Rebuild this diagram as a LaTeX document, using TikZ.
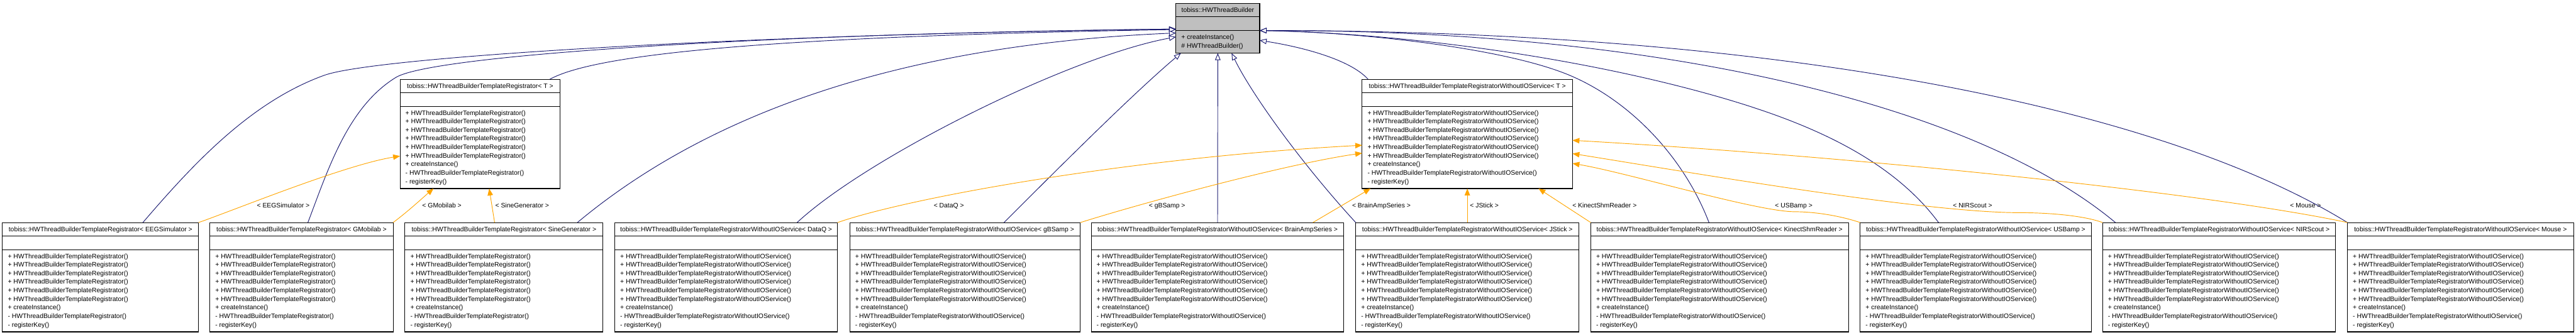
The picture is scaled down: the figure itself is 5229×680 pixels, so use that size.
\documentclass[tikz,border=0pt]{standalone}
\usepackage{fontspec}
\setmainfont{Liberation Sans}
\usetikzlibrary{arrows.meta}
\definecolor{edgeblue}{HTML}{191970}
\definecolor{edgeorange}{HTML}{FFA500}
\definecolor{basegray}{HTML}{BFBFBF}
\tikzset{
  umlframe/.style={draw=black, line width=1.4pt, inner sep=0pt, outer sep=0pt, rectangle},
  umlsep/.style={draw=black, line width=1.4pt},
  umltext/.style={inner sep=0pt, outer sep=0pt, text=black},
  inherit/.style={draw=edgeblue, line width=1.2pt, -{Triangle[open, fill=white, length=14pt, width=11pt]}},
  instance/.style={draw=edgeorange, line width=1.2pt, -{Triangle[length=14pt, width=11pt, fill=edgeorange]}},
  edgelabel/.style={inner sep=0pt, outer sep=0pt, text=black, anchor=base},
}
\newcommand\regmembers{+ HWThreadBuilderTemplateRegistrator(),+ HWThreadBuilderTemplateRegistrator(),+ HWThreadBuilderTemplateRegistrator(),+ HWThreadBuilderTemplateRegistrator(),+ HWThreadBuilderTemplateRegistrator(),+ HWThreadBuilderTemplateRegistrator(),+ createInstance(),- HWThreadBuilderTemplateRegistrator(),- registerKey()}
\newcommand\wiomembers{+ HWThreadBuilderTemplateRegistratorWithoutIOService(),+ HWThreadBuilderTemplateRegistratorWithoutIOService(),+ HWThreadBuilderTemplateRegistratorWithoutIOService(),+ HWThreadBuilderTemplateRegistratorWithoutIOService(),+ HWThreadBuilderTemplateRegistratorWithoutIOService(),+ HWThreadBuilderTemplateRegistratorWithoutIOService(),+ createInstance(),- HWThreadBuilderTemplateRegistratorWithoutIOService(),- registerKey()}
\newcommand\basemembers{+ createInstance(),\# HWThreadBuilder()}
\newcommand\umlclass[8]{%
  \node[umlframe, fill=#2, minimum width=#5pt, minimum height=#6pt, anchor=north west] (#1) at (#3,#4) {};
  \draw[umlsep] ([yshift=-27pt]#1.north west) -- ([yshift=-27pt]#1.north east);
  \draw[umlsep] ([yshift=-55pt]#1.north west) -- ([yshift=-55pt]#1.north east);
  \node[umltext, anchor=base] (#1-t) at ([yshift=-18.25pt]#1.north) {#7};
  \foreach \m [count=\i] in #8 {
    \node[umltext, anchor=base west] (#1-m\i) at ([xshift=11pt, yshift={-(72.75+(\i-1)*17.4)*1pt}]#1.north west) {\m};
  }%
}
\begin{document}
\begin{tikzpicture}[x=1pt, y=-1pt, font=\fontsize{13.25}{17.4}\selectfont]
\useasboundingbox (0,0) rectangle (5229,680);
% classes
\umlclass{base}{basegray}{2387}{7}{170}{101}{tobiss::HWThreadBuilder}{\basemembers}
\umlclass{tmpl}{white}{812}{161}{325}{222}{tobiss::HWThreadBuilderTemplateRegistrator< T >}{\regmembers}
\umlclass{wtmpl}{white}{2765}{161}{427}{222}{tobiss::HWThreadBuilderTemplateRegistratorWithoutIOService< T >}{\wiomembers}
\umlclass{eeg}{white}{5}{452}{398}{222}{tobiss::HWThreadBuilderTemplateRegistrator< EEGSimulator >}{\regmembers}
\umlclass{gmob}{white}{426}{452}{372}{222}{tobiss::HWThreadBuilderTemplateRegistrator< GMobilab >}{\regmembers}
\umlclass{sine}{white}{822}{452}{402}{222}{tobiss::HWThreadBuilderTemplateRegistrator< SineGenerator >}{\regmembers}
\umlclass{dataq}{white}{1248}{452}{452}{222}{tobiss::HWThreadBuilderTemplateRegistratorWithoutIOService< DataQ >}{\wiomembers}
\umlclass{gbsamp}{white}{1725}{452}{468}{222}{tobiss::HWThreadBuilderTemplateRegistratorWithoutIOService< gBSamp >}{\wiomembers}
\umlclass{brainamp}{white}{2215}{452}{513}{222}{tobiss::HWThreadBuilderTemplateRegistratorWithoutIOService< BrainAmpSeries >}{\wiomembers}
\umlclass{jstick}{white}{2752}{452}{453}{222}{tobiss::HWThreadBuilderTemplateRegistratorWithoutIOService< JStick >}{\wiomembers}
\umlclass{kinect}{white}{3229}{452}{523}{222}{tobiss::HWThreadBuilderTemplateRegistratorWithoutIOService< KinectShmReader >}{\wiomembers}
\umlclass{usbamp}{white}{3776}{452}{469}{222}{tobiss::HWThreadBuilderTemplateRegistratorWithoutIOService< USBamp >}{\wiomembers}
\umlclass{nirscout}{white}{4268}{452}{473}{222}{tobiss::HWThreadBuilderTemplateRegistratorWithoutIOService< NIRScout >}{\wiomembers}
\umlclass{mouse}{white}{4765}{452}{459}{222}{tobiss::HWThreadBuilderTemplateRegistratorWithoutIOService< Mouse >}{\wiomembers}
% inheritance edges
\draw[inherit] ([xshift=285pt]eeg.north west) .. controls (393,332) and (509,207) .. (658,153) .. controls (760,116) and (1500,70) .. ([yshift=-52pt]base.north west);
\draw[inherit] ([xshift=199pt]gmob.north west) .. controls (666,344) and (706,217) .. (804,157) .. controls (880,112) and (1550,68) .. ([yshift=-52pt]base.north west);
\draw[inherit] ([xshift=304pt]tmpl.north west) .. controls (1200,115) and (1500,75) .. ([yshift=-53pt]base.north west);
\draw[inherit] ([xshift=350pt]sine.north west) .. controls (1450,220) and (1850,90) .. ([yshift=-60pt]base.north west);
\draw[inherit] ([xshift=370pt]dataq.north west) .. controls (1760,320) and (2170,115) .. ([yshift=-68pt]base.north west);
\draw[inherit] ([xshift=313pt]gbsamp.north west) .. controls (2150,340) and (2300,190) .. ([xshift=10pt]base.south west);
\draw[inherit] (brainamp.north) -- (base.south);
\draw[inherit] (jstick.north west) .. controls (2640,330) and (2540,190) .. ([xshift=113pt]base.south west);
\draw[inherit] ([xshift=12pt]wtmpl.north west) .. controls (2740,120) and (2640,95) .. ([yshift=-75pt]base.north east);
\draw[inherit] ([xshift=240pt]kinect.north west) .. controls (3419,321) and (3309,202) .. (3179,150) .. controls (3040,95) and (2750,65) .. ([yshift=-55pt]base.north east);
\draw[inherit] ([xshift=159pt]usbamp.north west) .. controls (3835,317) and (3660,247) .. (3500,200) .. controls (3212,116) and (2850,68) .. ([yshift=-55pt]base.north east);
\draw[inherit] ([xshift=26pt]nirscout.north west) .. controls (4010,215) and (3380,60) .. ([yshift=-55pt]base.north east);
\draw[inherit] (mouse.north west) .. controls (4380,215) and (3600,62) .. ([yshift=-55pt]base.north east);
% template instantiation edges
\draw[instance] (eeg.north east) .. controls (480,425) and (700,335) .. ([yshift=-156pt]tmpl.north west);
\draw[instance] (gmob.north east) .. controls (830,428) and (860,400) .. ([xshift=68pt]tmpl.south west);
\draw[instance] ([xshift=182pt]sine.north west) -- ([xshift=181pt]tmpl.south west);
\draw[instance] (dataq.north east) .. controls (1850,400) and (2300,320) .. ([yshift=-134pt]wtmpl.north west);
\draw[instance] (gbsamp.north east) .. controls (2300,418) and (2600,335) .. ([yshift=-150pt]wtmpl.north west);
\draw[instance] ([xshift=450pt]brainamp.north west) -- ([xshift=17pt]wtmpl.south west);
\draw[instance] (jstick.north) -- (wtmpl.south);
\draw[instance] (kinect.north west) -- ([xshift=-69pt]wtmpl.south east);
\draw[instance] (usbamp.north west) .. controls (3740,440) and (3690,430) .. (3640,430) .. controls (3560,428) and (3300,350) .. ([yshift=-171pt]wtmpl.north east);
\draw[instance] (nirscout.north west) .. controls (4230,438) and (4160,432) .. (4100,432) .. controls (3900,432) and (3400,345) .. ([yshift=-151pt]wtmpl.north east);
\draw[instance] (mouse.north west) .. controls (4500,395) and (3800,320) .. ([yshift=-124pt]wtmpl.north east);
% labels
\node[edgelabel] (l-eeg) at (575,421.75) {< EEGSimulator >};
\node[edgelabel] (l-gmob) at (897,421.75) {< GMobilab >};
\node[edgelabel] (l-sine) at (1060,421.75) {< SineGenerator >};
\node[edgelabel] (l-dataq) at (1926,421.75) {< DataQ >};
\node[edgelabel] (l-gbsamp) at (2369,421.75) {< gBSamp >};
\node[edgelabel] (l-brainamp) at (2804,421.75) {< BrainAmpSeries >};
\node[edgelabel] (l-jstick) at (3013,421.75) {< JStick >};
\node[edgelabel] (l-kinect) at (3257,421.75) {< KinectShmReader >};
\node[edgelabel] (l-usbamp) at (3641,421.75) {< USBamp >};
\node[edgelabel] (l-nirscout) at (4004,421.75) {< NIRScout >};
\node[edgelabel] (l-mouse) at (4680,421.75) {< Mouse >};
\end{tikzpicture}
\end{document}
